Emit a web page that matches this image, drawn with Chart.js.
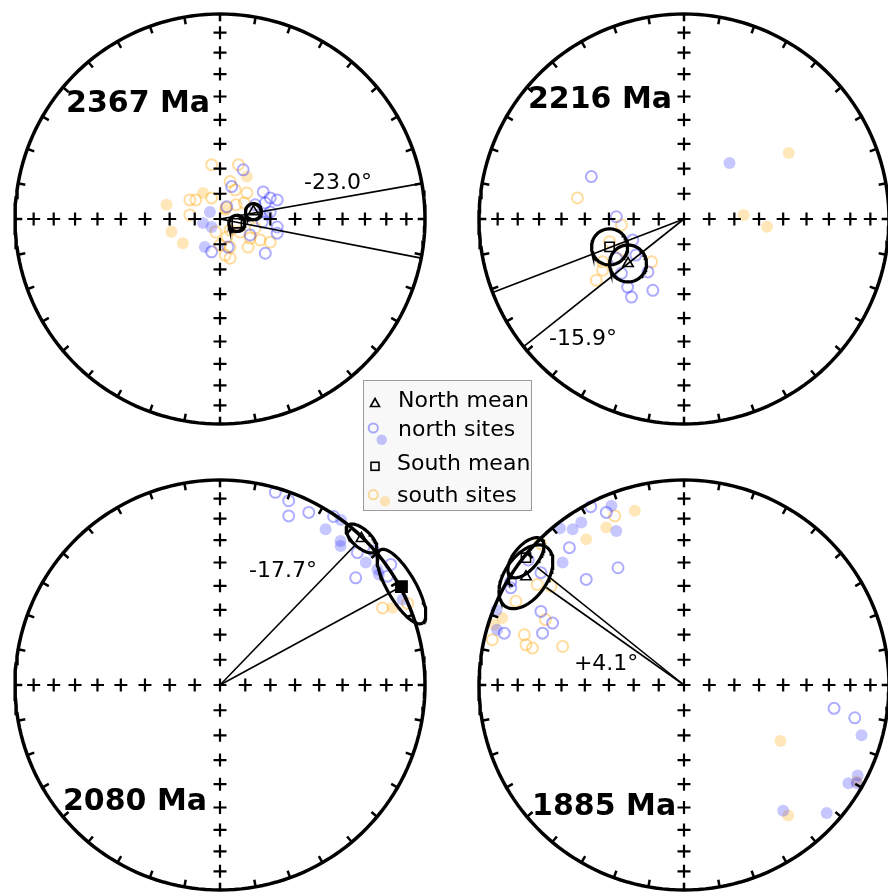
<!DOCTYPE html>
<html>
<head>
<meta charset="utf-8">
<title>Equal-area plots, north and south sites</title>
<script src="https://cdn.jsdelivr.net/npm/chart.js@4.4.1/dist/chart.umd.min.js"></script>
<style>
  html, body { margin: 0; padding: 0; background: #fff; }
  #page { position: relative; width: 888px; height: 894px; overflow: hidden; font-family: "DejaVu Sans", Verdana, sans-serif; }
  #page canvas { position: absolute; }
  #legend { position: absolute; left: 363px; top: 380px; width: 169px; height: 131px; box-sizing: border-box;
            border: 1px solid #9a9a9a; background: rgba(248, 248, 248, 0.96); }
  #legend svg { position: absolute; left: -1px; top: -1px; }
  #legend span { position: absolute; font-size: 22px; line-height: 22px; color: #000; white-space: nowrap; }
</style>
</head>
<body>
<div id="page">
  <canvas id="p2367" width="444" height="447" style="left:0;top:0"></canvas>
  <canvas id="p2216" width="444" height="447" style="left:444px;top:0"></canvas>
  <canvas id="p2080" width="444" height="447" style="left:0;top:447px"></canvas>
  <canvas id="p1885" width="444" height="447" style="left:444px;top:447px"></canvas>
  <div id="legend">
    <svg width="169" height="131">
      <polygon points="12,18.5 16.5,26.5 7.5,26.5" fill="none" stroke="#000" stroke-width="1.6"/>
      <circle cx="10.3" cy="48" r="4.6" fill="none" stroke="rgba(0,0,255,0.32)" stroke-width="2"/>
      <circle cx="18.7" cy="59.7" r="5.2" fill="rgba(0,0,255,0.22)"/>
      <rect x="8" y="82.3" width="8" height="8" fill="none" stroke="#000" stroke-width="1.6"/>
      <circle cx="10.3" cy="114.7" r="4.6" fill="none" stroke="rgba(255,165,0,0.38)" stroke-width="2"/>
      <circle cx="22" cy="121.3" r="5.2" fill="rgba(255,165,0,0.27)"/>
    </svg>
    <span style="left:34px;top:8px">North mean</span>
    <span style="left:34px;top:37px">north sites</span>
    <span style="left:33px;top:71px">South mean</span>
    <span style="left:33px;top:103px">south sites</span>
  </div>
</div>
<script>
const R = 205;            // pixels per unit radius of the net
const CW = 444, CH = 447; // canvas size of one panel

const ages = ['2367 Ma', '2216 Ma', '2080 Ma', '1885 Ma'];
const decDiffs = ['-23.0°', '-15.9°', '-17.7°', '+4.1°'];
const crossIncs = [90, 80, 70, 60, 50, 40, 30, 20, 10];
const rimTickStep = 10;

// site directions, equal-area coordinates (x east, y north, unit radius)
// "Up" = upper hemisphere (open), "Down" = lower hemisphere (filled)
const n2367Up = [[0.113,0.240],[0.057,0.158],[0.211,0.132],[0.245,0.103],[0.279,0.093],[0.221,0.078],[0.172,0.069],
  [0.279,-0.039],[0.279,-0.069],[0.221,-0.167],[0.147,-0.078],[0.039,-0.137],[-0.041,-0.160],[0.206,-0.015],[0.245,0.034],[0.033,0.060]];
const n2367Down = [[-0.049,0.034],[-0.083,-0.020],[-0.041,-0.039],[-0.074,-0.137],[0.229,0.020]];
const s2367Up = [[-0.041,0.265],[0.090,0.265],[0.049,0.183],[-0.147,0.093],[-0.118,0.093],[-0.041,0.103],[0.074,0.142],
  [0.131,0.127],[0.078,0.069],[0.029,0.054],[0.049,-0.054],[0.034,-0.088],[0.147,-0.093],[0.196,-0.103],[0.245,-0.113],
  [0.137,-0.137],[0.049,-0.137],[0.025,-0.176],[0.049,-0.191],[-0.147,0.020],[0.118,0.078],[-0.020,-0.064],[0.098,-0.064],
  [0.172,-0.044],[0.000,-0.127]];
const s2367Down = [[0.131,0.207],[-0.083,0.127],[-0.261,0.069],[-0.237,-0.062],[-0.181,-0.118],[0.025,0.044]];

const n2216Up = [[-0.452,0.207],[-0.330,0.011],[-0.250,-0.103],[-0.330,-0.191],[-0.305,-0.265],[-0.275,-0.332],
  [-0.256,-0.381],[-0.176,-0.258],[-0.152,-0.348],[-0.235,-0.176]];
const n2216Down = [[0.222,0.273]];
const s2216Up = [[-0.520,0.103],[-0.305,-0.029],[-0.363,-0.111],[-0.299,-0.152],[-0.397,-0.209],[-0.397,-0.250],
  [-0.428,-0.299],[-0.158,-0.209]];
const s2216Down = [[0.511,0.322],[0.291,0.020],[0.405,-0.038]];

const n2080Up = [[0.270,0.940],[0.335,0.899],[0.335,0.825],[0.433,0.842],[0.554,0.822],[0.670,0.646],[0.750,0.653],
  [0.662,0.523],[0.833,0.588],[0.817,0.531]];
const n2080Down = [[0.590,0.805],[0.515,0.760],[0.588,0.702],[0.588,0.678],[0.711,0.597],[0.768,0.564],[0.775,0.539],[0.891,0.417]];
const s2080Up = [[0.793,0.376],[0.915,0.398]];
const s2080Down = [[0.842,0.377]];

const n1885Up = [[-0.455,0.870],[-0.379,0.842],[-0.559,0.670],[-0.760,0.610],[-0.322,0.572],[-0.477,0.515],[-0.698,0.548],
  [-0.845,0.474],[-0.845,0.505],[-0.698,0.359],[-0.641,0.302],[-0.690,0.253],[-0.877,0.253],[0.732,-0.114],[0.833,-0.160]];
const n1885Down = [[-0.354,0.874],[-0.605,0.765],[-0.501,0.793],[-0.543,0.760],[-0.330,0.751],[-0.592,0.597],[-0.915,0.365],
  [-0.912,0.270],[0.866,-0.245],[0.847,-0.441],[0.802,-0.479],[0.843,-0.479],[0.484,-0.613],[0.696,-0.624]];
const s1885Up = [[-0.338,0.825],[-0.700,0.690],[-0.820,0.408],[-0.716,0.490],[-0.649,0.482],[-0.935,0.221],[-0.779,0.245],
  [-0.771,0.196],[-0.739,0.180],[-0.592,0.188],[-0.676,0.319]];
const s1885Down = [[-0.240,0.850],[-0.379,0.768],[-0.477,0.711],[-0.886,0.327],[-0.926,0.294],[0.471,-0.273],[0.843,-0.471],[0.508,-0.637]];

// means [x, y] and confidence ellipses [semi-major, semi-minor, rotation deg]
const northMeans = [[0.163,0.036],[-0.273,-0.217],[0.690,0.715],[-0.771,0.528]];
const southMeans = [[0.082,-0.021],[-0.363,-0.136],[0.885,0.480],[-0.771,0.621]];
const northConf = [[0.039,0.039,0],[0.090,0.090,0],[0.093,0.044,-42],[0.176,0.103,55]];
const southConf = [[0.039,0.039,0],[0.088,0.088,0],[0.206,0.069,-60],[0.118,0.059,50]];
const southMeanLower = [false, false, true, false];
// declination lines [declination, length]
const northLines = [[80,1],[231.5,1],[44,0.953],[305.3,0.823]];
const southLines = [[101,1],[249,1],[61.5,0.976],[308.7,0.918]];

const rad = (d) => d * Math.PI / 180;
const eqArea = (inc) => Math.SQRT2 * Math.sin(rad((90 - inc) / 2));
const pts = (arr) => arr.map(([x, y]) => ({ x, y }));

function rimPoints() {
  const out = [];
  for (let d = 0; d <= 360; d += 2) out.push({ x: Math.sin(rad(d)), y: Math.cos(rad(d)) });
  return out;
}

function crossPoints() {
  const out = [];
  crossIncs.forEach((inc) => {
    const r = eqArea(inc);
    if (r < 1e-9) out.push({ x: 0, y: 0 });
    else out.push({ x: r, y: 0 }, { x: -r, y: 0 }, { x: 0, y: r }, { x: 0, y: -r });
  });
  return out;
}

function ellipse([mx, my], [a, b, rot]) {
  const out = [], t = rad(rot);
  for (let i = 0; i <= 96; i++) {
    const p = i / 96 * 2 * Math.PI;
    out.push({
      x: mx + a * Math.cos(p) * Math.cos(t) - b * Math.sin(p) * Math.sin(t),
      y: my + a * Math.cos(p) * Math.sin(t) + b * Math.sin(p) * Math.cos(t)
    });
  }
  return out;
}

function decLine([dec, len]) {
  return [{ x: 0, y: 0 }, { x: len * Math.sin(rad(dec)), y: len * Math.cos(rad(dec)) }];
}

const panelText = {
  id: 'panelText',
  afterDatasetsDraw(chart, args, opts) {
    const { ctx, scales: { x, y } } = chart;
    ctx.save();
    ctx.fillStyle = '#000';
    ctx.textBaseline = 'alphabetic';
    opts.items.forEach((t) => {
      ctx.font = t.font;
      ctx.textAlign = t.align;
      ctx.fillText(t.text, x.getPixelForValue(t.at[0]), y.getPixelForValue(t.at[1]));
    });
    ctx.restore();
  }
};

const panels = [
  { id: 'p2367', cx: 220, cy: 219, nUp: n2367Up, nDown: n2367Down, sUp: s2367Up, sDown: s2367Down, ageAt: [-0.751, 0.522], diffAt: [0.576, 0.146] },
  { id: 'p2216', cx: 240, cy: 219, nUp: n2216Up, nDown: n2216Down, sUp: s2216Up, sDown: s2216Down, ageAt: [-0.761, 0.541], diffAt: [-0.493, -0.615] },
  { id: 'p2080', cx: 220, cy: 238, nUp: n2080Up, nDown: n2080Down, sUp: s2080Up, sDown: s2080Down, ageAt: [-0.766, -0.610], diffAt: [0.307, 0.527] },
  { id: 'p1885', cx: 240, cy: 238, nUp: n1885Up, nDown: n1885Down, sUp: s1885Up, sDown: s1885Down, ageAt: [-0.741, -0.634], diffAt: [-0.380, 0.073] }
];

const BLUE_OPEN = 'rgba(0,0,255,0.32)', BLUE_FILL = 'rgba(0,0,255,0.22)';
const ORANGE_OPEN = 'rgba(255,165,0,0.38)', ORANGE_FILL = 'rgba(255,165,0,0.27)';

function siteSet(data, color, open) {
  return {
    data: pts(data), order: 10, pointStyle: 'circle',
    pointRadius: open ? 5.5 : 6,
    backgroundColor: open ? 'rgba(0,0,0,0)' : color,
    borderColor: color, borderWidth: open ? 2 : 0
  };
}

function lineSet(data, width, order) {
  return { data, showLine: true, pointRadius: 0, borderColor: '#000', borderWidth: width, fill: false, order };
}

panels.forEach((p, i) => {
  const rimTicks = [], rimRot = [];
  const tickR = 1 - 3.5 / R;
  for (let d = 0; d < 360; d += rimTickStep) {
    rimTicks.push({ x: tickR * Math.sin(rad(d)), y: tickR * Math.cos(rad(d)) });
    rimRot.push(d - 90);
  }

  new Chart(document.getElementById(p.id), {
    type: 'scatter',
    data: {
      datasets: [
        siteSet(p.nUp, BLUE_OPEN, true),
        siteSet(p.nDown, BLUE_FILL, false),
        siteSet(p.sUp, ORANGE_OPEN, true),
        siteSet(p.sDown, ORANGE_FILL, false),
        { data: crossPoints(), order: 8, pointStyle: 'cross', pointRadius: 6.5, borderColor: '#000', borderWidth: 2.2 },
        lineSet(rimPoints(), 3.5, 7),
        { data: rimTicks, order: 7, pointStyle: 'line', pointRadius: 3.8, pointRotation: rimRot, borderColor: '#000', borderWidth: 2.5 },
        lineSet(decLine(northLines[i]), 1.6, 5),
        lineSet(decLine(southLines[i]), 1.6, 5),
        lineSet(ellipse(northMeans[i], northConf[i]), 3.2, 3),
        lineSet(ellipse(southMeans[i], southConf[i]), 3.2, 3),
        { data: pts([northMeans[i]]), order: 1, pointStyle: 'triangle', pointRadius: 6,
          backgroundColor: 'rgba(0,0,0,0)', borderColor: '#000', borderWidth: 1.6 },
        { data: pts([southMeans[i]]), order: 1, pointStyle: 'rect', pointRadius: southMeanLower[i] ? 8 : 6.5,
          backgroundColor: southMeanLower[i] ? '#000' : 'rgba(0,0,0,0)', borderColor: '#000', borderWidth: 1.6 }
      ]
    },
    options: {
      responsive: false,
      maintainAspectRatio: false,
      animation: false,
      devicePixelRatio: 1,
      events: [],
      layout: { padding: 0, autoPadding: false },
      elements: { line: { tension: 0 } },
      scales: {
        x: { type: 'linear', display: false, min: -p.cx / R, max: (CW - p.cx) / R },
        y: { type: 'linear', display: false, min: -(CH - p.cy) / R, max: p.cy / R }
      },
      plugins: {
        legend: { display: false },
        tooltip: { enabled: false },
        panelText: {
          items: [
            { text: ages[i], at: p.ageAt, font: 'bold 30px "DejaVu Sans"', align: 'left' },
            { text: decDiffs[i], at: p.diffAt, font: '22px "DejaVu Sans"', align: 'center' }
          ]
        }
      }
    },
    plugins: [panelText]
  });
});
</script>
</body>
</html>
